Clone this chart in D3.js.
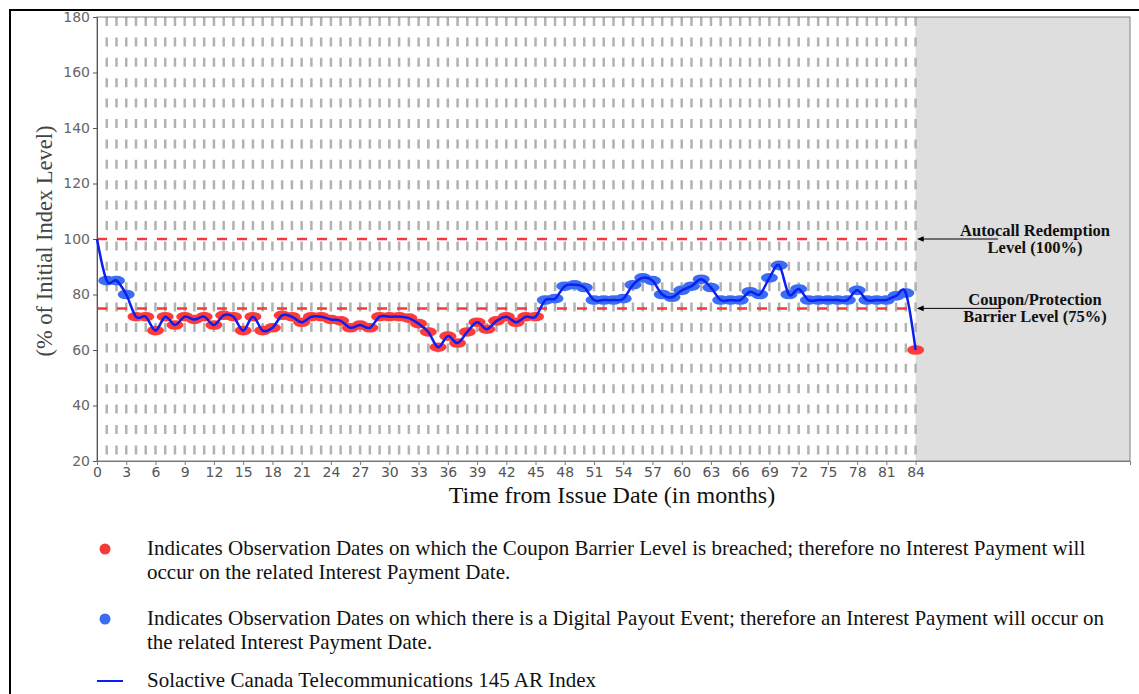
<!DOCTYPE html>
<html>
<head>
<meta charset="utf-8">
<script src="https://cdn.jsdelivr.net/npm/d3@7"></script>
<style>
  html, body { margin: 0; padding: 0; background: #fff; }
  svg { display: block; }
</style>
</head>
<body>
<svg id="chart" width="1139" height="694"></svg>
<script>
// index level at each month from issue date (0..84)
const months = d3.range(0, 85)
const indexLevels = [
  100, 85, 85, 80, 72, 72, 67, 72, 69, 72,
  71, 72, 69, 72.5, 72, 67, 72, 67, 68, 72.5,
  72, 70, 72, 72, 71, 70.5, 68, 69, 68, 72,
  72, 72, 71.5, 69.5, 66.5, 61, 65, 62.5, 66.5, 70,
  67.5, 70.5, 72, 70, 72, 72, 78, 78.5, 83, 83.5,
  82.5, 78, 78, 78, 78.5, 83.5, 86, 85, 80, 79,
  81.5, 83, 85.5, 82.5, 78, 78, 78, 81, 80, 86,
  90.5, 80, 82, 78, 78, 78, 78, 78, 81.5, 78,
  78, 78, 79.5, 80.5, 60,
]
const yTicks = [20, 40, 60, 80, 100, 120, 140, 160, 180]
const xTicks = d3.range(0, 85, 3)
const barrierLevels = [
  {value: 100, lines: ['Autocall Redemption', 'Level (100%)']},
  {value: 75, lines: ['Coupon/Protection', 'Barrier Level (75%)']},
]
const couponBarrier = 75
const legendItems = [
  {kind: 'red', lines: [
    'Indicates Observation Dates on which the Coupon Barrier Level is breached; therefore no Interest Payment will',
    'occur on the related Interest Payment Date.',
  ]},
  {kind: 'blue', lines: [
    'Indicates Observation Dates on which there is a Digital Payout Event; therefore an Interest Payment will occur on',
    'the related Interest Payment Date.',
  ]},
  {kind: 'line', lines: ['Solactive Canada Telecommunications 145 AR Index']},
]

const data = months.map((m, i) => ({month: m, value: indexLevels[i]}))

const plot = {left: 97, right: 1130, top: 17, bottom: 461}
const serif = '"Liberation Serif", "Times New Roman", serif'
const sans = '"DejaVu Sans", sans-serif'

const svg = d3.select('#chart')

// outer frame (document box)
svg.append('path')
  .attr('d', 'M10,694 V10 H1139')
  .attr('fill', 'none')
  .attr('stroke', '#000')
  .attr('stroke-width', 2)

const xScale = d3.scaleLinear().domain([0, 106]).range([plot.left, plot.right])
const yScale = d3.scaleLinear().domain([20, 180]).range([plot.bottom, plot.top])

// shaded area after maturity
svg.append('rect')
  .attr('x', xScale(84))
  .attr('y', plot.top)
  .attr('width', plot.right - xScale(84))
  .attr('height', plot.bottom - plot.top)
  .attr('fill', '#dedede')

// monthly observation grid lines
svg.append('g')
  .selectAll('line')
  .data(d3.range(1, 85))
  .join('line')
  .attr('x1', d => xScale(d))
  .attr('x2', d => xScale(d))
  .attr('y1', plot.top)
  .attr('y2', plot.bottom)
  .attr('stroke', '#b2b2b2')
  .attr('stroke-width', 2.5)
  .attr('stroke-dasharray', '9,11.4')

// barrier lines
svg.append('g')
  .selectAll('line')
  .data(barrierLevels)
  .join('line')
  .attr('x1', plot.left)
  .attr('x2', xScale(84))
  .attr('y1', d => yScale(d.value))
  .attr('y2', d => yScale(d.value))
  .attr('stroke', '#f53a3a')
  .attr('stroke-width', 2.5)
  .attr('stroke-dasharray', '10,10')

// plot border
svg.append('rect')
  .attr('x', plot.left)
  .attr('y', plot.top)
  .attr('width', plot.right - plot.left)
  .attr('height', plot.bottom - plot.top)
  .attr('fill', 'none')
  .attr('stroke', '#808080')
  .attr('stroke-width', 1)

// axes
const yAxis = d3.axisLeft(yScale).tickValues(yTicks).tickSize(4).tickPadding(3)
const xAxis = d3.axisBottom(xScale).tickValues(xTicks).tickSize(4).tickPadding(2)

svg.append('g')
  .attr('transform', `translate(${plot.left},0)`)
  .call(yAxis)
  .call(g => g.select('.domain').attr('stroke', '#555'))
  .call(g => g.selectAll('.tick line').attr('stroke', '#555'))
  .call(g => g.selectAll('.tick text')
    .attr('font-family', sans)
    .attr('font-size', 14)
    .attr('fill', '#666'))

svg.append('g')
  .attr('transform', `translate(0,${plot.bottom})`)
  .call(xAxis)
  .call(g => g.select('.domain').attr('stroke', '#777'))
  .call(g => g.selectAll('.tick line').attr('stroke', '#777'))
  .call(g => g.selectAll('.tick text')
    .attr('font-family', sans)
    .attr('font-size', 14)
    .attr('fill', '#555'))

// axis titles
svg.append('text')
  .attr('transform', `translate(52,${(plot.top + plot.bottom) / 2 + 2}) rotate(-90)`)
  .attr('text-anchor', 'middle')
  .attr('font-family', serif)
  .attr('font-size', 22.5)
  .attr('fill', '#444')
  .text('(% of Initial Index Level)')

svg.append('text')
  .attr('x', 612)
  .attr('y', 503)
  .attr('text-anchor', 'middle')
  .attr('font-family', serif)
  .attr('font-size', 24)
  .attr('fill', '#111')
  .text('Time from Issue Date (in months)')

// observation dots
svg.append('g')
  .selectAll('ellipse')
  .data(data.filter(d => d.month > 0))
  .join('ellipse')
  .attr('cx', d => xScale(d.month))
  .attr('cy', d => yScale(d.value))
  .attr('rx', 8.5)
  .attr('ry', 4.8)
  .attr('fill', d => (d.value < couponBarrier ? '#ff3a3a' : '#3a6cf4'))

// index line
const line = d3.line()
  .x(d => xScale(d.month))
  .y(d => yScale(d.value))
  .curve(d3.curveCardinal.tension(0))

svg.append('path')
  .datum(data)
  .attr('d', line)
  .attr('fill', 'none')
  .attr('stroke', '#0a1ff0')
  .attr('stroke-width', 2.5)

// barrier annotations
svg.append('defs')
  .append('marker')
  .attr('id', 'arrow')
  .attr('viewBox', '0 0 10 10')
  .attr('refX', 1)
  .attr('refY', 5)
  .attr('markerWidth', 7)
  .attr('markerHeight', 7)
  .attr('orient', 'auto-start-reverse')
  .append('path')
  .attr('d', 'M0,1 L10,5 L0,9 z')
  .attr('fill', '#000')

const notes = svg.append('g')
  .selectAll('g')
  .data(barrierLevels)
  .join('g')

notes.append('line')
  .attr('x1', 998)
  .attr('x2', 923)
  .attr('y1', d => yScale(d.value))
  .attr('y2', d => yScale(d.value))
  .attr('stroke', '#000')
  .attr('stroke-width', 1)
  .attr('marker-end', 'url(#arrow)')

notes.append('text')
  .attr('text-anchor', 'middle')
  .attr('font-family', serif)
  .attr('font-weight', 'bold')
  .attr('font-size', 16.5)
  .attr('fill', '#111')
  .selectAll('tspan')
  .data(d => d.lines.map((t, i) => ({t, i, y: yScale(d.value)})))
  .join('tspan')
  .attr('x', 1035)
  .attr('y', d => d.y - 3 + d.i * 17)
  .text(d => d.t)

// legend
const legendTop = [555, 625, 687]
const legend = svg.append('g')
  .selectAll('g')
  .data(legendItems)
  .join('g')
  .attr('transform', (d, i) => `translate(0,${legendTop[i]})`)

legend.filter(d => d.kind !== 'line')
  .append('circle')
  .attr('cx', 105)
  .attr('cy', -6)
  .attr('r', 5.5)
  .attr('fill', d => (d.kind === 'red' ? '#f53a3a' : '#3a6cf4'))

legend.filter(d => d.kind === 'line')
  .append('line')
  .attr('x1', 97)
  .attr('x2', 123)
  .attr('y1', -6)
  .attr('y2', -6)
  .attr('stroke', '#0a1ff0')
  .attr('stroke-width', 2)

legend.append('text')
  .attr('font-family', serif)
  .attr('font-size', 21)
  .attr('fill', '#111')
  .selectAll('tspan')
  .data(d => d.lines.map((t, i) => ({t, i})))
  .join('tspan')
  .attr('x', 147)
  .attr('y', d => d.i * 24)
  .text(d => d.t)
</script>
</body>
</html>
